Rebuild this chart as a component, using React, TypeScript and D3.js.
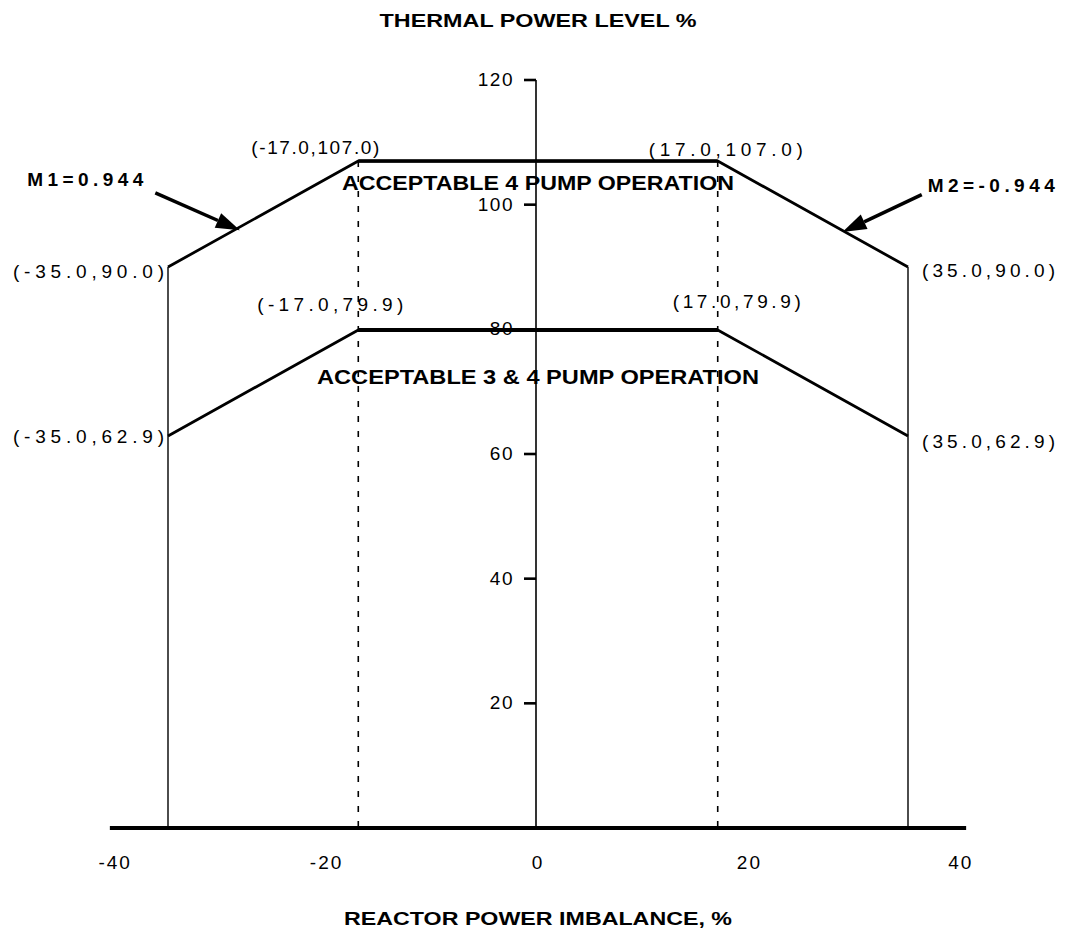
import React from "react";
import * as d3 from "d3";

// ---- data ----
const imbalance = [-35.0, -17.0, 17.0, 35.0];
const fourPumpLimit = [90.0, 107.0, 107.0, 90.0];
const threePumpLimit = [62.9, 79.9, 79.9, 62.9];
const fourPumpLabels = ["(-35.0,90.0)", "(-17.0,107.0)", "(17.0,107.0)", "(35.0,90.0)"];
const threePumpLabels = ["(-35.0,62.9)", "(-17.0,79.9)", "(17.0,79.9)", "(35.0,62.9)"];
const xTicks = [-40, -20, 0, 20, 40];
const yTicks = [20, 40, 60, 80, 100, 120];
const slopeLabels = ["M1=0.944", "M2=-0.944"];
const slopeArrowStart = [[-36.2, 101.9], [36.3, 101.6]];
const slopeArrowEnd = [[-28.2, 95.9], [28.8, 95.6]];
const regionLabels = ["ACCEPTABLE 4 PUMP OPERATION", "ACCEPTABLE 3 & 4 PUMP OPERATION"];
const xTitle = "REACTOR POWER IMBALANCE, %";
const yTitle = "THERMAL POWER LEVEL %";

const W = 1069;
const H = 933;
const FONT = "'Liberation Sans', Arial, Helvetica, sans-serif";

export default function App() {
  const x = d3.scaleLinear().domain([-35, 35]).range([168, 908]);
  const y = d3.scaleLinear().domain([0, 120]).range([828, 80]);

  const line = d3
    .line<[number, number]>()
    .x((d) => x(d[0]))
    .y((d) => y(d[1]));

  const upper: [number, number][] = imbalance.map((v, i) => [v, fourPumpLimit[i]]);
  const lower: [number, number][] = imbalance.map((v, i) => [v, threePumpLimit[i]]);

  // label placement: [anchor, dx, baseline dy]
  const upperPlace: [string, number, number][] = [
    ["end", -4, 11],
    ["end", 21, -7],
    ["middle", 8, -5],
    ["start", 14, 10],
  ];
  const lowerPlace: [string, number, number][] = [
    ["end", -4, 7],
    ["middle", -28, -19],
    ["middle", 19, -22],
    ["start", 14, 12],
  ];
  const upperW = [151, 128, 154, 133];
  const lowerW = [151, 146, 128, 133];

  const arrows = slopeArrowStart.map((s, i) => {
    const e = slopeArrowEnd[i];
    const x1 = x(s[0]), y1 = y(s[1]);
    const x2 = x(e[0]), y2 = y(e[1]);
    const ang = Math.atan2(y2 - y1, x2 - x1);
    const len = 24, half = 8;
    const bx = x2 - len * Math.cos(ang), by = y2 - len * Math.sin(ang);
    const px = -Math.sin(ang), py = Math.cos(ang);
    const head = [
      [x2, y2],
      [bx + half * px, by + half * py],
      [bx - half * px, by - half * py],
    ];
    return { x1, y1, bx, by, head };
  });

  return (
    <svg
      width={W}
      height={H}
      viewBox={`0 0 ${W} ${H}`}
      style={{ position: "absolute", left: 0, top: 0, background: "#fff" }}
      fontFamily={FONT}
    >
      <rect width={W} height={H} fill="#fff" />
      {/* title */}
      <text x={x(0)} y={27} textAnchor="middle" fontSize={19} fontWeight="bold"
        textLength={317} lengthAdjust="spacingAndGlyphs">{yTitle}</text>

      {/* y axis */}
      <line x1={x(0) - 2} x2={x(0) - 2} y1={y(120)} y2={y(0)} stroke="#000" strokeWidth={1.6} />
      {yTicks.map((t) => (
        <g key={t}>
          <line x1={x(0) - 14} x2={x(0) - 2} y1={y(t)} y2={y(t)} stroke="#000" strokeWidth={2.6} />
          <text x={x(0) - 24} y={y(t) + 6} textAnchor="end" fontSize={19} letterSpacing={1.5}>{t}</text>
        </g>
      ))}

      {/* dashed verticals */}
      {[imbalance[1], imbalance[2]].map((v, i) => (
        <line key={"d" + i} x1={x(v)} x2={x(v)} y1={y(fourPumpLimit[1])} y2={y(0)}
          stroke="#000" strokeWidth={1.6} strokeDasharray="6,9" />
      ))}
      {/* solid verticals */}
      {[0, 3].map((i) => (
        <line key={"s" + i} x1={x(imbalance[i])} x2={x(imbalance[i])} y1={y(fourPumpLimit[i])} y2={y(0)}
          stroke="#000" strokeWidth={1.4} />
      ))}

      {/* limit lines */}
      <path d={line(upper) || ""} fill="none" stroke="#000" strokeWidth={2.8} strokeLinejoin="round" />
      <path d={line(upper.slice(1, 3)) || ""} fill="none" stroke="#000" strokeWidth={3.6} />
      <path d={line(lower) || ""} fill="none" stroke="#000" strokeWidth={2.8} strokeLinejoin="round" />
      <path d={line(lower.slice(1, 3)) || ""} fill="none" stroke="#000" strokeWidth={4} />

      {/* x axis */}
      <line x1={x(-40.5)} x2={x(40.5)} y1={y(0)} y2={y(0)} stroke="#000" strokeWidth={4} />
      {xTicks.map((t) => (
        <text key={t} x={x(t)} y={y(0) + 41} textAnchor="middle" fontSize={19} letterSpacing={2}>{t}</text>
      ))}
      <text x={x(0)} y={y(0) + 97} textAnchor="middle" fontSize={19} fontWeight="bold"
        textLength={388} lengthAdjust="spacingAndGlyphs">{xTitle}</text>

      {/* point labels */}
      {fourPumpLabels.map((s, i) => (
        <text key={"u" + i} x={x(imbalance[i]) + upperPlace[i][1]} y={y(fourPumpLimit[i]) + upperPlace[i][2]}
          textAnchor={upperPlace[i][0] as any} fontSize={19} textLength={upperW[i]} lengthAdjust="spacing">{s}</text>
      ))}
      {threePumpLabels.map((s, i) => (
        <text key={"l" + i} x={x(imbalance[i]) + lowerPlace[i][1]} y={y(threePumpLimit[i]) + lowerPlace[i][2]}
          textAnchor={lowerPlace[i][0] as any} fontSize={19} textLength={lowerW[i]} lengthAdjust="spacing">{s}</text>
      ))}

      {/* region labels */}
      <text x={x(0)} y={y(fourPumpLimit[1]) + 29} textAnchor="middle" fontSize={20} fontWeight="bold"
        textLength={392} lengthAdjust="spacingAndGlyphs">{regionLabels[0]}</text>
      <text x={x(0)} y={y(threePumpLimit[1]) + 54} textAnchor="middle" fontSize={20} fontWeight="bold"
        textLength={442} lengthAdjust="spacingAndGlyphs">{regionLabels[1]}</text>

      {/* slope annotations */}
      {arrows.map((a, i) => (
        <g key={"a" + i}>
          <line x1={a.x1} y1={a.y1} x2={a.bx} y2={a.by} stroke="#000" strokeWidth={3.5} />
          <polygon points={a.head.map((p) => p.join(",")).join(" ")} fill="#000" />
        </g>
      ))}
      <text x={arrows[0].x1 - 12} y={arrows[0].y1 - 7} textAnchor="end" fontSize={19} fontWeight="bold"
        textLength={116} lengthAdjust="spacing">{slopeLabels[0]}</text>
      <text x={arrows[1].x1 + 6} y={arrows[1].y1 - 3} textAnchor="start" fontSize={19} fontWeight="bold"
        textLength={127} lengthAdjust="spacing">{slopeLabels[1]}</text>
    </svg>
  );
}
